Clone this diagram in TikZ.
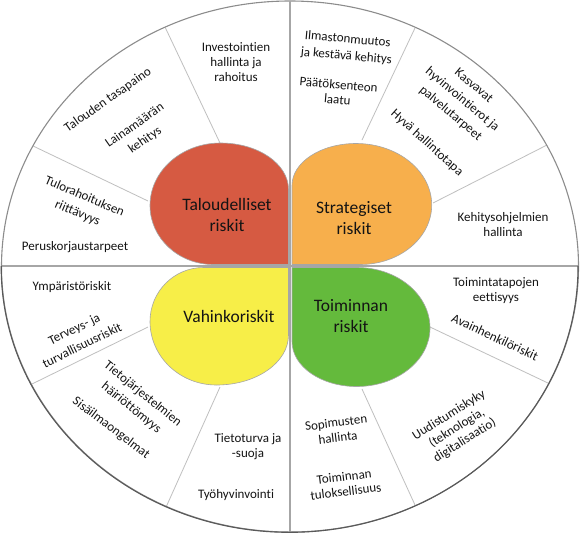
\documentclass[tikz,border=0pt]{standalone}
\usepackage{fontspec}
\setmainfont{Carlito}[Ligatures={NoCommon}]
\usetikzlibrary{calc}
\definecolor{pred}{RGB}{214,90,66}
\definecolor{porange}{RGB}{247,175,76}
\definecolor{pyellow}{RGB}{247,238,72}
\definecolor{pgreen}{RGB}{100,186,60}
\definecolor{txt}{RGB}{20,20,20}
\newcommand{\petalshape}[7]{%
\path[fill=#1, draw=black!35, line width=0.6pt] (0,0) -- (#7,0)
 .. controls ({#7+0.5523*(#2-#7)},0) and (#2,{#5-0.5523*#5}) .. (#2,#5)
 .. controls (#2,{#5+0.5523*(#3-#5)}) and ({#4+0.5523*(#2-#4)},#3) .. (#4,#3)
 .. controls ({#4-0.5523*#4},#3) and (0,{#6+0.5523*(#3-#6)}) .. (0,#6) -- cycle;}
\begin{document}
\begin{tikzpicture}[x=1pt,y=-1pt,
  lbl/.style={font=\fontsize{13}{15}\selectfont, align=center, text=txt, inner sep=0pt},
  rlbl/.style={lbl, font=\fontsize{13}{18}\selectfont},
  petaltext/.style={font=\fontsize{17.5}{21}\selectfont, align=center, text=txt, inner sep=0pt},
  sector/.style={draw=black!25, line width=0.8pt},
  cross/.style={draw=black!35, line width=2pt}]
\useasboundingbox (0,0) rectangle (580,533);
\fill[white] (290,266.5) ellipse [x radius=288.5, y radius=265.5];
\begin{scope}
\clip (290,266.5) ellipse [x radius=288, y radius=265];
\coordinate (tl1i) at (220,143); \coordinate (tl1o) at (165,27);
\coordinate (tl2i) at (148,201); \coordinate (tl2o) at (31,145);
\coordinate (tr1i) at (362,140); \coordinate (tr1o) at (415,28);
\coordinate (tr2i) at (433,203); \coordinate (tr2o) at (547,145);
\coordinate (bl1i) at (148,327); \coordinate (bl1o) at (32,384);
\coordinate (bl2i) at (220,387); \coordinate (bl2o) at (167,505);
\coordinate (br1i) at (362,389); \coordinate (br1o) at (415,505);
\coordinate (br2i) at (430,327); \coordinate (br2o) at (550,384);
\foreach \s in {tl1,tl2,tr1,tr2,bl1,bl2,br1,br2}{
  \draw[sector] (\s i) -- ($(\s i)!1.15!(\s o)$);
}
\coordinate (hl) at (0,266); \coordinate (hr) at (580,266);
\coordinate (vt) at (290.2,0); \coordinate (vb) at (290.2,533);
\draw[cross] (hl) -- (hr);
\draw[cross] (vt) -- (vb);
\end{scope}
\draw[black!45, line width=1.1pt] (290,266.5) ellipse [x radius=288.5, y radius=265.5];
\begin{scope}
\clip (0,266.5) rectangle (580,533);
\draw[black!65, line width=1.1pt] (289.6,266.9) ellipse [x radius=288.4, y radius=265.4];
\end{scope}
% petals
\begin{scope}[shift={(288.5,264.5)}, xscale=-1, yscale=-1]
\petalshape{pred}{138.5}{121.5}{68}{59}{75}{75}
\end{scope}
\begin{scope}[shift={(292,264.5)}, yscale=-1]
\petalshape{porange}{139.7}{121}{64}{59.5}{79}{68}
\end{scope}
\begin{scope}[shift={(288.5,267.5)}, xscale=-1]
\petalshape{pyellow}{138.5}{117.5}{72}{54}{67.5}{85}
\end{scope}
\begin{scope}[shift={(292,267.5)}]
\petalshape{pgreen}{138}{119}{64.7}{60.5}{74}{65}
\end{scope}
\node[petaltext] (tal) at (227,215) {Taloudelliset\\riskit};
\node[petaltext] (str) at (354,218) {Strategiset\\riskit};
\node[petaltext] (vah) at (229,316) {Vahinkoriskit};
\node[petaltext] (toi) at (351,316) {Toiminnan\\riskit};
% top-left
\node[lbl] (inv) at (236,62) {Investointien\\hallinta ja\\rahoitus};
\node[lbl, rotate=35] (tas) at (108,100) {Talouden tasapaino};
\node[rlbl, rotate=35] (lain) at (140,133) {Lainamäärän\\kehitys};
\node[rlbl, rotate=-23] (tulo) at (81,205) {Tulorahoituksen\\riittävyys};
\node[lbl] (peru) at (75,247) {Peruskorjaustarpeet};
% top-right
\node[lbl, rotate=-5, font=\fontsize{13}{17}\selectfont] (ilm) at (347,48) {Ilmastonmuutos\\ja kestävä kehitys};
\node[lbl, rotate=-5] (paat) at (338,92) {Päätöksenteon\\laatu};
\node[rlbl, rotate=-40] (kasv) at (462,100) {Kasvavat\\hyvinvointierot ja\\palvelutarpeet};
\node[lbl, rotate=-42] (hyva) at (427,143) {Hyvä hallintotapa};
\node[lbl] (keh) at (503,225) {Kehitysohjelmien\\hallinta};
% bottom-left
\node[lbl] (ymp) at (72,287) {Ympäristöriskit};
\node[rlbl, rotate=26] (terv) at (78,337) {Terveys- ja\\turvallisuusriskit};
\node[rlbl, rotate=-39] (tieto) at (137,401) {Tietojärjestelmien\\häiriöttömyys};
\node[lbl, rotate=-37] (sis) at (111,428) {Sisäilmaongelmat};
\node[lbl] (tturva) at (248,447) {Tietoturva ja\\-suoja};
\node[lbl] (tyo) at (236,495) {Työhyvinvointi};
% bottom-right
\node[lbl] (toimt) at (496,291) {Toimintatapojen\\eettisyys};
\node[lbl, rotate=-25] (avain) at (495,337) {Avainhenkilöriskit};
\node[lbl, rotate=7] (sop) at (337,430) {Sopimusten\\hallinta};
\node[lbl, rotate=7] (tul) at (345,484) {Toiminnan\\tuloksellisuus};
\node[lbl, rotate=32] (uud) at (457,428) {Uudistumiskyky\\(teknologia,\\digitalisaatio)};
\end{tikzpicture}
\end{document}
